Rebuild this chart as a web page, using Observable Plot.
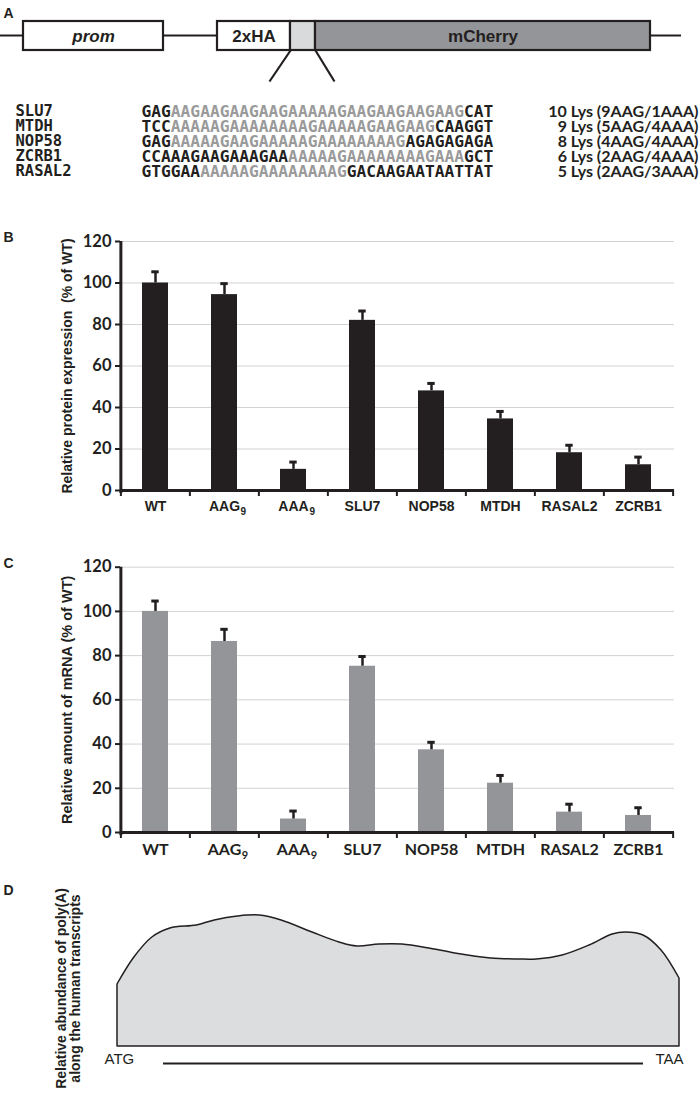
<!DOCTYPE html>
<html><head><meta charset="utf-8">
<script src="https://cdn.jsdelivr.net/npm/d3@7"></script>
<script src="https://cdn.jsdelivr.net/npm/@observablehq/plot@0.6"></script>
<style>
html,body{margin:0;padding:0;background:#fff;}
#fig{position:relative;width:700px;height:1099px;overflow:hidden;}
#fig svg{position:absolute;left:0;display:block;}
</style></head><body><div id="fig"></div>
<script>
// ---------- data ----------
const constructNames = ["prom", "2xHA", "", "mCherry"];
const constructStart = [23, 217, 290, 315];
const constructEnd = [163, 290, 315, 650];

const genes = ["SLU7", "MTDH", "NOP58", "ZCRB1", "RASAL2"];
const seqLeft = ["GAG", "TCC", "GAG", "CCAAAGAAGAAAGAA", "GTGGAA"];
const seqRepeat = ["AAGAAGAAGAAGAAAAAGAAGAAGAAGAAG", "AAAAAGAAAAAAAAGAAAAAGAAGAAG", "AAAAAGAAGAAAAAGAAAAAAAAG", "AAAAAGAAAAAAAAGAAA", "AAAAAGAAAAAAAAG"];
const seqRight = ["CAT", "CAAGGT", "AGAGAGAGA", "GCT", "GACAAGAATAATTAT"];
const lysLabels = ["10 Lys (9AAG/1AAA)", "9 Lys (5AAG/4AAA)", "8 Lys (4AAG/4AAA)", "6 Lys (2AAG/4AAA)", "5 Lys (2AAG/3AAA)"];

const categories = ["WT", "AAG\u2089", "AAA\u2089", "SLU7", "NOP58", "MTDH", "RASAL2", "ZCRB1"];
const proteinValues = [100, 94.4, 10.2, 82, 48, 34.5, 18.2, 12.4];
const proteinErrors = [5.4, 5.3, 3.5, 4.5, 3.6, 3.6, 3.6, 3.7];
const mrnaValues = [100, 86.4, 6.1, 75.2, 37.4, 22.3, 9.2, 7.7];
const mrnaErrors = [4.7, 5.5, 3.6, 4.4, 3.4, 3.5, 3.6, 3.5];
const yTicks = [0, 20, 40, 60, 80, 100, 120];

// relative position along transcript (%) and poly(A) abundance (arbitrary units)
const polyAPos = [0, 3, 6.2, 9.4, 14.1, 17.3, 21.4, 25.3, 29.2, 34.7, 39.5, 42.7, 46.6, 50.7, 55.5, 60.1, 66.5, 71.4, 74.6, 79.2, 84, 88.1, 90.4, 93.6, 96.8, 100];
const polyAVal = [62, 89, 109, 118, 121, 126, 130, 131, 126, 114, 104, 100, 102, 102, 98, 93, 88, 87, 87, 91, 101, 112, 114, 111, 96, 68];

// ---------- styles ----------
const ink = "#231f20";
const arial = "Liberation Sans, Arial, sans-serif";
const calibri = "Lato, sans-serif";
const mono = "DejaVu Sans Mono, monospace";
const fig = document.getElementById("fig");
function place(svg, top) { svg.style.top = top + "px"; fig.appendChild(svg); }
const measureCtx = document.createElement("canvas").getContext("2d");
function textWidth(s, font) { measureCtx.font = font; return measureCtx.measureText(s).width; }

// ---------- Panel A: construct ----------
const construct = constructNames.map((name, i) => ({name, x1: constructStart[i], x2: constructEnd[i]}));
const constructFill = ["#ffffff", "#ffffff", "#d9dadb", "#939598"];
const A1 = Plot.plot({
  width: 700, height: 90, margin: 0,
  style: {background: "transparent"},
  x: {domain: [0, 700], range: [0, 700], axis: null},
  y: {domain: [0, 90], range: [0, 90], axis: null},
  marks: [
    Plot.ruleY([35], {x1: 0, x2: 681, stroke: ink, strokeWidth: 2.2}),
    Plot.rect(construct, {x1: "x1", x2: "x2", y1: 21, y2: 50, fill: (d, i) => constructFill[i], stroke: ink, strokeWidth: 2.2}),
    Plot.link([construct[2]], {x1: "x1", y1: 50, x2: d => d.x1 - 21, y2: 81, stroke: ink, strokeWidth: 2.2}),
    Plot.link([construct[2]], {x1: "x2", y1: 50, x2: d => d.x2 + 19, y2: 81, stroke: ink, strokeWidth: 2.2}),
    Plot.text([construct[0]], {x: d => (d.x1 + d.x2) / 2, y: 36, text: "name", fontFamily: arial, fontSize: 17, fontWeight: "bold", fontStyle: "italic", fill: ink}),
    Plot.text(construct.slice(1).filter(d => d.name), {x: d => (d.x1 + d.x2) / 2, y: 36, text: "name", fontFamily: arial, fontSize: 17, fontWeight: "bold", fill: ink}),
    Plot.text(["A"], {frameAnchor: "top-left", dx: 3, dy: 8, textAnchor: "start", fontFamily: arial, fontSize: 14, fontWeight: "bold", fill: ink})
  ]
});
place(A1, 0);

// ---------- Panel A: sequences ----------
const nb = n => "\u00A0".repeat(n);
const rows = genes.map((gene, i) => ({
  gene,
  black: seqLeft[i] + nb(seqRepeat[i].length) + seqRight[i],
  gray: nb(seqLeft[i].length) + seqRepeat[i],
  lys: lysLabels[i]
}));
const A2 = Plot.plot({
  width: 700, height: 110, margin: 0,
  style: {background: "transparent"},
  x: {domain: [0, 700], range: [0, 700], axis: null},
  y: {type: "point", domain: genes, range: [12, 90], axis: null},
  marks: [
    Plot.text(rows, {x: 15, y: "gene", text: "gene", textAnchor: "start", fontFamily: mono, fontSize: 15.5, fontWeight: "bold", fill: ink}),
    Plot.text(rows, {x: 141, y: "gene", text: "black", textAnchor: "start", fontFamily: mono, fontSize: 16.24, fontWeight: "bold", fill: ink}),
    Plot.text(rows, {x: 141, y: "gene", text: "gray", textAnchor: "start", fontFamily: mono, fontSize: 16.24, fontWeight: "bold", fill: "#9a9a9a"}),
    Plot.text(rows, {x: 698, y: "gene", text: "lys", textAnchor: "end", fontFamily: calibri, fontSize: 16, fontWeight: "bold", fill: ink})
  ]
});
place(A2, 90);

// ---------- Panels B and C ----------
const SUB = "\u2089";
const baseLabel = d => d.replace(SUB, "");
function barPanel({values, errors, fill, top, marginTop, marginBottom, ylabel, ylabelSize, letter, letterDy, xFont, xFontSize, subFontSize, subDy}) {
  const data = categories.map((cat, i) => ({cat, v: values[i], e: errors[i]}));
  const height = 330;
  const marginLeft = 120, marginRight = 26;
  const step = (700 - marginLeft - marginRight) / categories.length;
  const pxPerUnit = (height - marginTop - marginBottom) / 120;
  const tickUnits = 6 / pxPerUnit;
  const subCats = categories.filter(c => c.includes(SUB));
  const subOffset = textWidth("AAG", `bold ${xFontSize}px ${xFont}`) / 2 + 0.5;
  const svg = Plot.plot({
    width: 700, height, marginLeft, marginRight, marginTop, marginBottom,
    style: {background: "transparent", color: ink},
    x: {domain: categories, paddingInner: 0.62, paddingOuter: 0.31, label: null},
    y: {domain: [0, 120], label: null},
    marks: [
      Plot.gridY({ticks: yTicks, stroke: "#d2d2d2", strokeOpacity: 1, strokeWidth: 1}),
      Plot.barY(data, {x: "cat", y: "v", fill}),
      Plot.ruleX(data, {x: "cat", y1: "v", y2: d => d.v + d.e, stroke: ink, strokeWidth: 2.5}),
      Plot.tickY(data, {x: "cat", y: d => d.v + d.e, stroke: ink, strokeWidth: 3, insetLeft: 9.3, insetRight: 9.3}),
      Plot.axisY({ticks: yTicks, tickSize: 5, tickPadding: 4, fontSize: 16.5, fontWeight: "bold", fontFamily: calibri, label: null, strokeWidth: 2}),
      Plot.axisX({tickSize: 0, tickPadding: 11, tickFormat: baseLabel, fontSize: xFontSize, fontWeight: "bold", fontFamily: xFont, label: null}),
      Plot.text(subCats, {x: d => d, y: 0, text: () => "9", dx: subOffset, dy: subDy, lineAnchor: "top", textAnchor: "start", fontSize: subFontSize, fontWeight: "bold", fontFamily: xFont, fill: ink}),
      Plot.ruleX(categories, {x: d => d, y1: 0, y2: -tickUnits, dx: -step / 2, stroke: ink, strokeWidth: 2}),
      Plot.ruleX(categories.slice(-1), {x: d => d, y1: 0, y2: -tickUnits, dx: step / 2, stroke: ink, strokeWidth: 2}),
      Plot.ruleX(categories.slice(0, 1), {x: d => d, y1: -tickUnits / 2, y2: 120, dx: -step / 2, stroke: ink, strokeWidth: 3}),
      Plot.ruleY([0], {stroke: ink, strokeWidth: 3}),
      Plot.text([ylabel], {frameAnchor: "left", rotate: -90, dx: -53, textAnchor: "middle", fontFamily: arial, fontSize: ylabelSize, fontWeight: "bold", fill: ink}),
      Plot.text([letter], {frameAnchor: "top-left", dx: -117, dy: letterDy, textAnchor: "start", fontFamily: arial, fontSize: 14, fontWeight: "bold", fill: ink})
    ]
  });
  place(svg, top);
}

barPanel({values: proteinValues, errors: proteinErrors, fill: ink, top: 200, marginTop: 41, marginBottom: 40,
  ylabel: "Relative protein expression  (% of WT)", ylabelSize: 14, letter: "B", letterDy: -9, xFont: arial, xFontSize: 14, subFontSize: 10, subDy: 17.5});
barPanel({values: mrnaValues, errors: mrnaErrors, fill: "#939598", top: 530, marginTop: 36.7, marginBottom: 28,
  ylabel: "Relative amount of mRNA (% of WT)", ylabelSize: 14.5, letter: "C", letterDy: -8.7, xFont: calibri, xFontSize: 16, subFontSize: 11, subDy: 18.5});

// ---------- Panel D ----------
const polyA = polyAPos.map((p, i) => ({p, v: polyAVal[i]}));
const D = Plot.plot({
  width: 700, height: 239, marginLeft: 117, marginRight: 21, marginTop: 46, marginBottom: 53,
  style: {background: "transparent", color: ink},
  x: {domain: [0, 100], axis: null},
  y: {domain: [0, 140], axis: null},
  marks: [
    Plot.areaY(polyA, {x: "p", y: "v", curve: "catmull-rom", fill: "#dcdddf", stroke: ink, strokeWidth: 1.5}),
    Plot.ruleY([0], {dy: 17, insetLeft: 46, insetRight: 36, stroke: ink, strokeWidth: 2}),
    Plot.text(["ATG"], {frameAnchor: "bottom-left", dx: -13, dy: 17, textAnchor: "start", fontFamily: arial, fontSize: 15, fill: ink}),
    Plot.text(["TAA"], {frameAnchor: "bottom-right", dx: 4, dy: 17, textAnchor: "end", fontFamily: arial, fontSize: 15, fill: ink}),
    Plot.text(["Relative abundance of poly(A)\nalong the human transcripts"], {frameAnchor: "left", rotate: -90, dx: -49, dy: 12, textAnchor: "middle", lineHeight: 1.0, fontFamily: arial, fontSize: 14, fontWeight: "bold", fill: ink}),
    Plot.text(["D"], {frameAnchor: "top-left", dx: -114, dy: -21, textAnchor: "start", fontFamily: arial, fontSize: 14, fontWeight: "bold", fill: ink})
  ]
});
place(D, 860);
</script></body></html>
